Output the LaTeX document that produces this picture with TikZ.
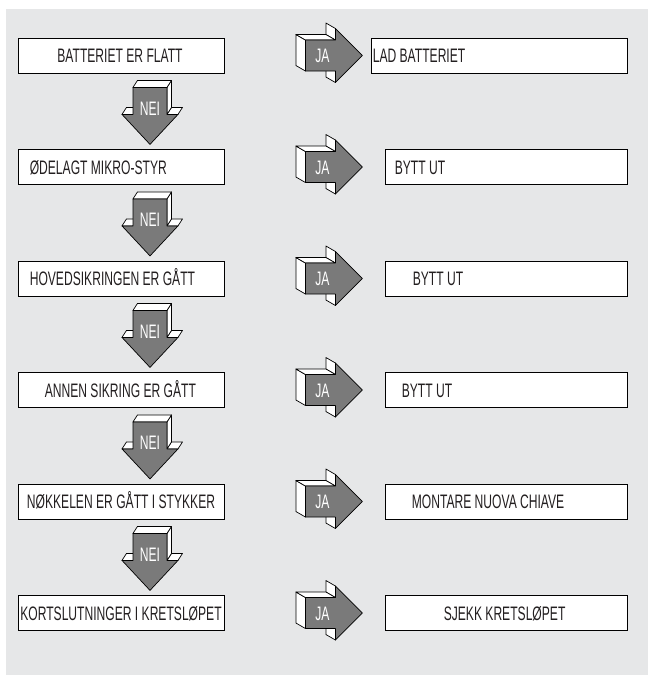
\documentclass[tikz,border=0pt]{standalone}
\usepackage{fontspec}
\setmainfont{Liberation Sans}[FakeStretch=0.62]
\usetikzlibrary{calc}

\definecolor{panel}{RGB}{230,231,232}
\definecolor{arrowgray}{RGB}{122,122,122}
\definecolor{ink}{RGB}{35,31,32}

\tikzset{
  box/.style={draw=black, fill=white, line width=0.8pt, minimum height=35pt, inner sep=0pt},
  lbox/.style={box, minimum width=206pt},
  rbox/.style={box, minimum width=242pt},
  lbl/.style={font=\fontsize{19.5}{19.5}\selectfont, text=ink, inner sep=0pt},
  face/.style={draw=black, line width=0.7pt, fill=white, line join=round},
  front/.style={draw=black, line width=0.7pt, fill=arrowgray, line join=round},
  arrowtext/.style={font=\fontsize{19.5}{19.5}\selectfont, text=white, inner sep=0pt},
  % block arrow pointing right, seen from the upper left
  pics/jaarrow/.style={code={
    \filldraw[face] (30,15.5) -- (30,27) -- (20.5,21.5) -- (20.5,10) -- cycle;
    \filldraw[face] (30,-15.5) -- (30,-27) -- (20.5,-32.5) -- (20.5,-21) -- cycle;
    \filldraw[face] (0,-15.5) -- (-9.5,-21) -- (-9.5,10) -- (0,15.5) -- cycle;
    \filldraw[face] (0,-15.5) -- (-9.5,-21) -- (20.5,-21) -- (30,-15.5) -- cycle;
    \filldraw[front] (0,-15.5) -- (30,-15.5) -- (30,-27) -- (57,0) -- (30,27)
      -- (30,15.5) -- (0,15.5) -- cycle;
    \node[arrowtext, anchor=base] at (17,7) {JA};
  }},
  % block arrow pointing down, seen from the upper right
  pics/neiarrow/.style={code={
    \filldraw[face] (-28,27) -- (-23.5,20) -- (-12.5,20) -- (-17,27) -- cycle;
    \filldraw[face] (17,27) -- (21.5,20) -- (32.5,20) -- (28,27) -- cycle;
    \filldraw[face] (17,0) -- (21.5,-7) -- (21.5,20) -- (17,27) -- cycle;
    \filldraw[face] (-17,0) -- (-12.5,-7) -- (21.5,-7) -- (17,0) -- cycle;
    \filldraw[front] (-17,0) -- (17,0) -- (17,27) -- (28,27) -- (0,57)
      -- (-28,27) -- (-17,27) -- cycle;
    \node[arrowtext, anchor=base] at (0,28) {NEI};
  }},
}

\begin{document}
\begin{tikzpicture}[x=1pt, y=-1pt]
  \useasboundingbox (0,0) rectangle (648,675);
  \fill[panel] (6,9) rectangle (648,675);

  % question boxes (left column)
  \node[lbox] (L1) at (121,55.5) {};
  \node[lbox] (L2) at (121,167) {};
  \node[lbox] (L3) at (121,278.5) {};
  \node[lbox] (L4) at (121,390) {};
  \node[lbox] (L5) at (121,501.5) {};
  \node[lbox] (L6) at (121,613) {};

  % action boxes (right column)
  \node[box, minimum width=256pt] (R1) at (499,55.5) {};
  \node[rbox] (R2) at (506,167) {};
  \node[rbox] (R3) at (506,278.5) {};
  \node[rbox] (R4) at (506,390) {};
  \node[rbox] (R5) at (506,501.5) {};
  \node[rbox] (R6) at (506,613) {};

  % labels
  \node[lbl, anchor=base] (tL1) at ($(L1.center)+(-1,7)$) {BATTERIET ER FLATT};
  \node[lbl, anchor=base west] (tL2) at ($(L2.west)+(12,7)$) {ØDELAGT MIKRO-STYR};
  \node[lbl, anchor=base west] (tL3) at ($(L3.west)+(12,7)$) {HOVEDSIKRINGEN ER GÅTT};
  \node[lbl, anchor=base west] (tL4) at ($(L4.west)+(27,7)$) {ANNEN SIKRING ER GÅTT};
  \node[lbl, anchor=base] (tL5) at ($(L5.center)+(0,7)$) {NØKKELEN ER GÅTT I STYKKER};
  \node[lbl, anchor=base] (tL6) at ($(L6.center)+(0,7)$) {KORTSLUTNINGER I KRETSLØPET};

  \node[lbl, anchor=base west] (tR1) at ($(R1.west)+(2,7)$) {LAD BATTERIET};
  \node[lbl, anchor=base west] (tR2) at ($(R2.west)+(10,7)$) {BYTT UT};
  \node[lbl, anchor=base west] (tR3) at ($(R3.west)+(28,7)$) {BYTT UT};
  \node[lbl, anchor=base west] (tR4) at ($(R4.west)+(17,7)$) {BYTT UT};
  \node[lbl, anchor=base west] (tR5) at ($(R5.west)+(27,7)$) {MONTARE NUOVA CHIAVE};
  \node[lbl, anchor=base west] (tR6) at ($(R6.west)+(59,7)$) {SJEKK KRETSLØPET};

  % "JA" arrows from each question to its action
  \foreach \k in {1,...,6} {
    \pic at ($(L\k.east)+(81,0)$) {jaarrow};
  }

  % "NEI" arrows down to the next question
  \foreach \k in {1,...,5} {
    \pic at ($(L\k.south)+(29,14)$) {neiarrow};
  }
\end{tikzpicture}
\end{document}
